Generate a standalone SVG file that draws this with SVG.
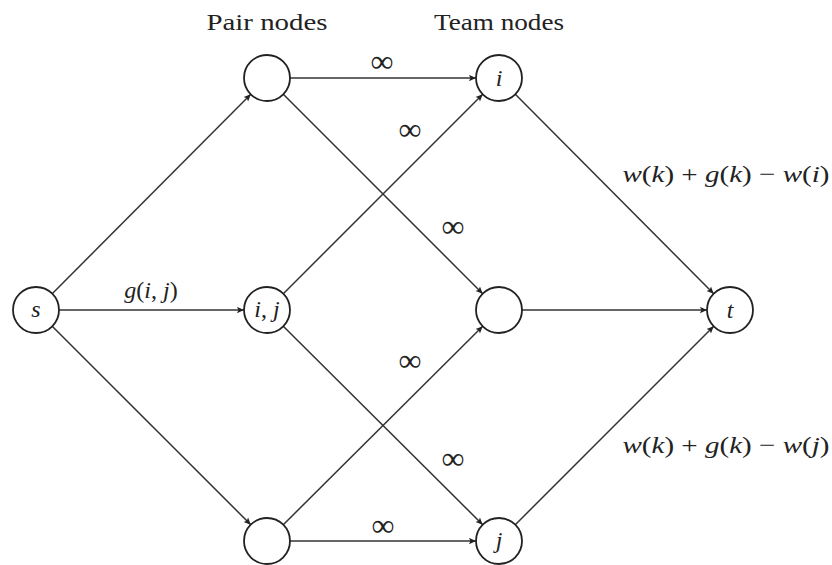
<svg xmlns="http://www.w3.org/2000/svg" width="832" height="565" viewBox="0 0 832 565">
  <style>
    .node circle { fill: #fff; stroke: #222; stroke-width: 1.8; }
    .lbl { font-family: "Liberation Serif", "DejaVu Serif", serif; font-style: italic; font-size: 24px; fill: #222; text-anchor: middle; }
    .up { font-style: normal; }
    .hdr { font-family: "Liberation Serif", "DejaVu Serif", serif; font-size: 24px; fill: #222; text-anchor: middle; }
    .inf { font-family: "Liberation Serif", "DejaVu Serif", serif; font-size: 32px; fill: #222; text-anchor: middle; }
    .edges line { stroke: #333; stroke-width: 1.5; marker-end: url(#arr); }
  </style>
  <defs>
    <marker id="arr" viewBox="0 0 10 10" refX="10" refY="5" markerWidth="8" markerHeight="7" markerUnits="userSpaceOnUse" orient="auto">
      <path d="M0,0.5 L10,5 L0,9.5 L2,5 z" fill="#222"/>
    </marker>
  </defs>
  <rect width="832" height="565" fill="#fff"/>

  <text class="hdr" x="267" y="30" textLength="121" lengthAdjust="spacingAndGlyphs">Pair nodes</text>
  <text class="hdr" x="499" y="30" textLength="130" lengthAdjust="spacingAndGlyphs">Team nodes</text>

  <g id="connectors" class="edges">
    <line x1="52.2" y1="293.7" x2="250.8" y2="94.3"/>
    <line x1="59" y1="310" x2="244" y2="310"/>
    <line x1="52.2" y1="326.3" x2="250.8" y2="524.7"/>
    <line x1="290" y1="78" x2="476" y2="78"/>
    <line x1="283.3" y1="94.3" x2="482.7" y2="293.7"/>
    <line x1="283.3" y1="293.7" x2="482.7" y2="94.3"/>
    <line x1="283.3" y1="326.3" x2="482.7" y2="524.7"/>
    <line x1="283.3" y1="524.7" x2="482.7" y2="326.3"/>
    <line x1="290" y1="541" x2="476" y2="541"/>
    <line x1="515.3" y1="94.3" x2="713.7" y2="293.7"/>
    <line x1="522" y1="310" x2="707" y2="310"/>
    <line x1="515.3" y1="524.7" x2="713.7" y2="326.3"/>
  </g>

  <g id="edge-labels">
    <text class="lbl" x="151" y="298">g<tspan class="up">(</tspan>i<tspan class="up">,</tspan> j<tspan class="up">)</tspan></text>
    <text class="inf" x="382" y="72">∞</text>
    <text class="inf" x="410" y="140">∞</text>
    <text class="inf" x="453" y="237">∞</text>
    <text class="inf" x="410" y="371">∞</text>
    <text class="inf" x="453" y="469">∞</text>
    <text class="inf" x="383" y="536">∞</text>
    <text class="lbl" x="726" y="182" textLength="207" lengthAdjust="spacingAndGlyphs">w<tspan class="up">(</tspan>k<tspan class="up">) + </tspan>g<tspan class="up">(</tspan>k<tspan class="up">) − </tspan>w<tspan class="up">(</tspan>i<tspan class="up">)</tspan></text>
    <text class="lbl" x="726" y="453" textLength="207" lengthAdjust="spacingAndGlyphs">w<tspan class="up">(</tspan>k<tspan class="up">) + </tspan>g<tspan class="up">(</tspan>k<tspan class="up">) − </tspan>w<tspan class="up">(</tspan>j<tspan class="up">)</tspan></text>
  </g>

  <g id="node-s" class="node"><circle cx="36" cy="310" r="23"/><text class="lbl" x="36" y="317">s</text></g>
  <g id="node-pair-top" class="node"><circle cx="267" cy="78" r="23"/></g>
  <g id="node-pair-ij" class="node"><circle cx="267" cy="310" r="23"/><text class="lbl" x="267" y="317">i<tspan class="up">,</tspan> j</text></g>
  <g id="node-pair-bottom" class="node"><circle cx="267" cy="541" r="23"/></g>
  <g id="node-team-i" class="node"><circle cx="499" cy="78" r="23"/><text class="lbl" x="499" y="86">i</text></g>
  <g id="node-team-mid" class="node"><circle cx="499" cy="310" r="23"/></g>
  <g id="node-team-j" class="node"><circle cx="499" cy="541" r="23"/><text class="lbl" x="499" y="548">j</text></g>
  <g id="node-t" class="node"><circle cx="730" cy="310" r="23"/><text class="lbl" x="730" y="318">t</text></g>
</svg>
